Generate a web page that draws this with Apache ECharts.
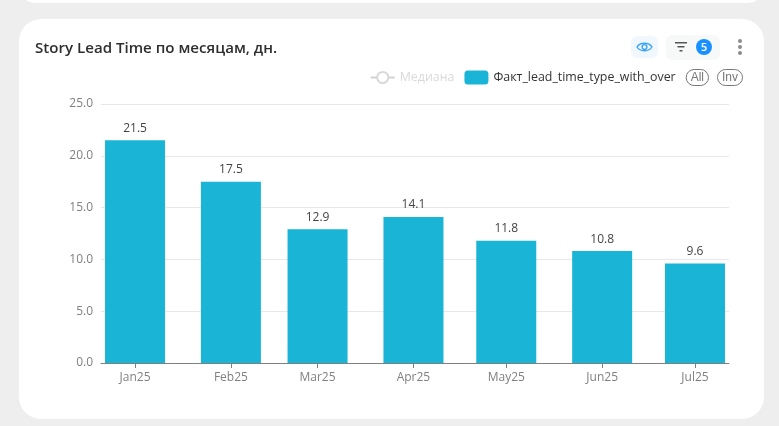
<!DOCTYPE html>
<html>
<head>
<meta charset="utf-8">
<title>Story Lead Time</title>
<script src="https://cdn.jsdelivr.net/npm/echarts@6/dist/echarts.min.js"></script>
<style>
html, body { margin: 0; padding: 0; width: 779px; height: 426px; overflow: hidden; background: #eeeeee; }
.card { position: absolute; background: #fff; }
.card-prev { left: 19px; top: -40px; width: 745px; height: 43px; border-radius: 16px; }
.card-main { left: 19px; top: 19px; width: 745px; height: 400px; border-radius: 22px; }
#chart { position: absolute; left: 0; top: 0; width: 779px; height: 426px; }
.btn { position: absolute; border-radius: 6px; }
.btn-eye { left: 631px; top: 36px; width: 27px; height: 22px; background: #f0f8fe; }
.btn-filter { left: 666px; top: 35px; width: 54px; height: 25px; background: #f7f8f8; }
.badge { position: absolute; left: 696px; top: 39px; width: 16px; height: 16px; border-radius: 8px; background: #1890ff;
  color: #fff; font: 600 11px/16px "Open Sans", sans-serif; text-align: center; }
svg { position: absolute; }
</style>
</head>
<body>
<div class="card card-prev"></div>
<div class="card card-main"></div>
<div id="chart"></div>
<div class="btn btn-eye"></div>
<div class="btn btn-filter"></div>
<svg style="left:636px;top:40px" width="17" height="14" viewBox="0 0 17 14">
  <path d="M1 7 C4 2 13 2 16 7 C13 12 4 12 1 7 Z" fill="none" stroke="#3ba5f5" stroke-width="1.4"/>
  <circle cx="8.5" cy="7" r="2.4" fill="none" stroke="#3ba5f5" stroke-width="1.4"/>
</svg>
<svg style="left:674px;top:41px" width="14" height="12" viewBox="0 0 14 12">
  <rect x="1" y="1" width="12" height="1.5" fill="#555"/>
  <rect x="3.5" y="5" width="7" height="1.5" fill="#555"/>
  <rect x="5.5" y="9" width="3" height="1.5" fill="#555"/>
</svg>
<div class="badge">5</div>
<svg style="left:736px;top:38px" width="8" height="18" viewBox="0 0 8 18">
  <circle cx="4" cy="3" r="2" fill="#8c8c8c"/>
  <circle cx="4" cy="9" r="2" fill="#8c8c8c"/>
  <circle cx="4" cy="15" r="2" fill="#8c8c8c"/>
</svg>
<script>
var months = ['2025-01-01', '2025-02-01', '2025-03-01', '2025-04-01', '2025-05-01', '2025-06-01', '2025-07-01'];
var monthLabels = ['Jan25', 'Feb25', 'Mar25', 'Apr25', 'May25', 'Jun25', 'Jul25'];
var factValues = [21.5, 17.5, 12.9, 14.1, 11.8, 10.8, 9.6];
var yTicks = [0, 5, 10, 15, 20, 25];

var monthTimes = months.map(function (m) { return Date.parse(m + 'T00:00:00Z'); });
var fontName = '"Open Sans", "Noto Sans", sans-serif';
var dayMs = 86400000;

var chart = echarts.init(document.getElementById('chart'));
chart.setOption({
    useUTC: true,
    animation: false,
    textStyle: { fontFamily: fontName },
    title: {
        text: 'Story Lead Time по месяцам, дн.',
        left: 35,
        top: 41,
        padding: 0,
        textStyle: { fontFamily: fontName, fontSize: 15.1, fontWeight: 600, color: '#2e2e2e' }
    },
    legend: {
        top: 69,
        right: 36,
        padding: 0,
        itemGap: 10,
        itemWidth: 24,
        itemHeight: 14,
        textStyle: { fontSize: 12.4, color: '#333333' },
        inactiveColor: '#d9d9d9',
        selected: { 'Медиана': false },
        selector: [{ type: 'all', title: 'All' }, { type: 'inverse', title: 'Inv' }],
        selectorItemGap: 8,
        selectorButtonGap: 10,
        selectorLabel: { fontSize: 12, color: '#777777', borderColor: '#777777', padding: [2, 4.5] },
        data: [
            { name: 'Медиана' },
            { name: 'Факт_lead_time_type_with_over', icon: 'roundRect' }
        ]
    },
    grid: { left: 101, right: 50, top: 104, bottom: 63 },
    xAxis: {
        type: 'time',
        // the bar overflow widens this range by a further 30px on each side
        min: monthTimes[0] - 1.3 * dayMs,
        max: monthTimes[monthTimes.length - 1] + 1.3 * dayMs,
        minInterval: 28 * dayMs,
        splitNumber: 7,
        axisLine: { lineStyle: { color: '#808080' } },
        axisTick: { length: 5, lineStyle: { color: '#808080' } },
        splitLine: { show: false },
        axisLabel: {
            color: '#808080',
            fontSize: 12,
            margin: 9,
            hideOverlap: false,
            formatter: function (v) {
                var i = monthTimes.indexOf(v);
                return i < 0 ? '' : monthLabels[i];
            }
        }
    },
    yAxis: {
        type: 'value',
        min: yTicks[0],
        max: yTicks[yTicks.length - 1],
        interval: yTicks[1] - yTicks[0],
        axisLine: { show: false },
        axisTick: { show: false },
        splitLine: { lineStyle: { color: '#e8e8e8' } },
        axisLabel: {
            color: '#808080',
            fontSize: 12,
            margin: 8,
            formatter: function (v) { return v.toFixed(1); }
        }
    },
    series: [
        {
            name: 'Медиана',
            type: 'line',
            symbol: 'emptyCircle',
            symbolSize: 12,
            itemStyle: { color: '#7f7f7f' },
            data: []
        },
        {
            name: 'Факт_lead_time_type_with_over',
            type: 'bar',
            barWidth: 60,
            itemStyle: { color: '#1ab5d6' },
            label: { show: true, position: 'top', distance: 6, fontSize: 12, color: '#444444', formatter: function (p) { return p.value[1].toFixed(1); } },
            data: monthTimes.map(function (t, i) { return [t, factValues[i]]; })
        }
    ]
});
</script>
</body>
</html>
